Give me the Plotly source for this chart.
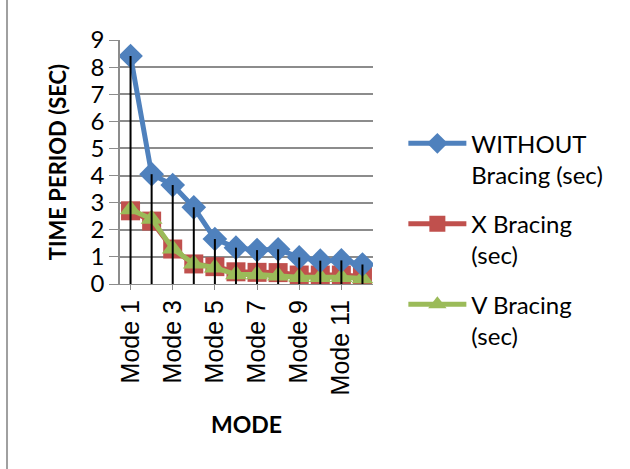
import plotly.graph_objects as go

modes = ["Mode 1", "Mode 2", "Mode 3", "Mode 4", "Mode 5", "Mode 6",
         "Mode 7", "Mode 8", "Mode 9", "Mode 10", "Mode 11", "Mode 12"]
without_bracing = [8.41, 4.05, 3.65, 2.83, 1.66, 1.34, 1.25, 1.28, 0.98, 0.86, 0.87, 0.72]
x_bracing = [2.70, 2.32, 1.29, 0.74, 0.64, 0.45, 0.43, 0.42, 0.33, 0.33, 0.33, 0.28]
v_bracing = [2.75, 2.40, 1.30, 0.75, 0.60, 0.35, 0.35, 0.30, 0.25, 0.25, 0.25, 0.20]
y_ticks = list(range(0, 10))
x_tick_labels = modes[::2]

BLUE = "#4F81BD"
RED = "#C0504D"
GREEN = "#9BBB59"
GRID = "#8c8c8c"

fig = go.Figure()

fig.add_trace(go.Scatter(
    x=modes, y=x_bracing, name="X Bracing<br>(sec)", mode="lines+markers",
    line=dict(color=RED, width=5),
    marker=dict(symbol="square", size=19, color=RED),
    legendrank=2, legendgroup="x",
))
fig.add_trace(go.Scatter(
    x=modes, y=v_bracing, name="V Bracing<br>(sec)", mode="lines+markers",
    line=dict(color=GREEN, width=5),
    marker=dict(symbol="triangle-up", size=19, color=GREEN),
    legendrank=3, legendgroup="v",
))
fig.add_trace(go.Scatter(
    x=modes, y=without_bracing, name="WITHOUT<br>Bracing (sec)", mode="lines+markers",
    line=dict(color=BLUE, width=5),
    marker=dict(symbol="diamond", size=19, color=BLUE),
    legendrank=1, legendgroup="w",
))

# drop lines from the highest series to the axis
dx, dy = [], []
for m, a, b, c in zip(modes, without_bracing, x_bracing, v_bracing):
    dx += [m, m, None]
    dy += [max(a, b, c), 0, None]
fig.add_trace(go.Scatter(x=dx, y=dy, mode="lines", line=dict(color="black", width=2),
                         showlegend=False, hoverinfo="skip"))

fig.update_layout(
    width=630, height=469,
    margin=dict(l=120, r=257, t=40, b=185),
    paper_bgcolor="white", plot_bgcolor="white",
    showlegend=True,
    legend=dict(x=1.12, y=0.667, xanchor="left", yanchor="top", valign="top",
                font=dict(family="Lato", size=24, color="black"),
                itemwidth=58, tracegroupgap=15, bgcolor="rgba(0,0,0,0)"),
    xaxis=dict(
        type="category", categoryorder="array", categoryarray=modes,
        tickmode="array", tickvals=x_tick_labels, ticktext=x_tick_labels,
        tickangle=-90, tickfont=dict(family="Liberation Sans", size=25, color="black"),
        showgrid=False, showline=True, linecolor=GRID, linewidth=1,
        ticks="outside", ticklen=5, tickcolor=GRID,
        title=dict(text="<b>MODE</b>", font=dict(family="Lato", size=23, color="black"), standoff=22),
        range=[-0.5, 11.5],
    ),
    yaxis=dict(
        range=[0, 9], tickmode="array", tickvals=y_ticks,
        tickfont=dict(family="Lato", size=24, color="black"),
        showgrid=True, gridcolor=GRID, gridwidth=1.5,
        showline=True, linecolor=GRID, linewidth=1.5,
        ticks="outside", ticklen=9, tickcolor=GRID,
        zeroline=False,
        title=dict(text="<b>TIME PERIOD (SEC)</b>", font=dict(family="Lato", size=22, color="black"), standoff=18),
    ),
    shapes=[
        dict(type="line", xref="paper", yref="paper", x0=-0.4466, x1=2.0, y0=1.1925, y1=1.1925,
             line=dict(color="#a0a0a0", width=2)),
        dict(type="line", xref="paper", yref="paper", x0=-0.4466, x1=-0.4466, y0=1.1925, y1=-1.0,
             line=dict(color="#a0a0a0", width=2)),
        dict(type="path", xref="paper", yref="paper",
             path="M 1.85 1.192 L 2.02 1.192 L 2.02 1.24 Z",
             fillcolor="#d8dde0", line=dict(width=0)),
    ],
)

fig.write_html("out.html")
